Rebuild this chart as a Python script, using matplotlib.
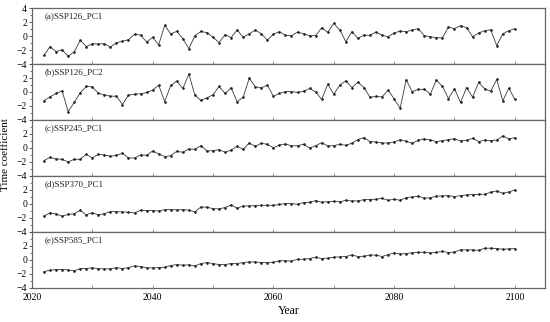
import numpy as np
import matplotlib
matplotlib.use("Agg")
import matplotlib.pyplot as plt
from matplotlib.ticker import MultipleLocator

plt.rcParams['font.family'] = ['Liberation Serif', 'DejaVu Serif']

years = list(range(2022, 2101))

ssp126_pc1 = [-2.78, -1.5, -2.22, -1.95, -2.9, -2.27, -0.61, -1.51, -1.1, -1.14,
              -1.1, -1.58, -0.95, -0.76, -0.52, 0.26, 0.14, -0.85, -0.19, -1.25,
              1.52, 0.29, 0.68, -0.38, -1.8, 0.05, 0.65, 0.48, -0.19, -0.93,
              0.2, -0.22, 0.88, -0.19, 0.33, 0.85, 0.33, -0.58, 0.26, 0.62,
              0.1, 0.05, 0.57, 0.33, 0.05, 0.05, 1.19, 0.52, 1.81, 0.86,
              -0.81, 0.62, -0.33, 0.14, 0.1, 0.57, 0.1, -0.1, 0.43, 0.71,
              0.62, 0.86, 1.05, 0.05, -0.1, -0.24, -0.24, 1.29, 1.05, 1.48,
              1.19, -0.1, 0.43, 0.76, 0.9, -1.38, 0.33, 0.76, 1.05]

ssp126_pc2 = [-1.25, -0.69, -0.21, 0.17, -2.79, -1.5, -0.12, 0.79, 0.74, -0.17,
              -0.4, -0.6, -0.6, -1.79, -0.45, -0.31, -0.26, -0.07, 0.26, 0.98,
              -1.36, 0.93, 1.55, 0.5, 2.55, -0.45, -1.21, -0.83, -0.4, 0.79,
              -0.21, 0.6, -1.4, -0.74, 1.98, 0.74, 0.6, 0.98, -0.6, -0.21,
              0.07, 0.07, -0.07, 0.12, 0.5, 0.02, -1.07, 1.12, -0.31, 0.98,
              1.6, 0.64, 1.4, 0.64, -0.74, -0.64, -0.69, 0.26, -0.98, -2.31,
              1.74, 0.05, 0.36, 0.4, -0.31, 1.74, 0.79, -0.93, 0.45, -1.5,
              0.64, -0.74, 1.36, 0.45, 0.12, 1.79, -1.26, 0.55, -1.07]

ssp245_pc1 = [-1.81, -1.33, -1.57, -1.62, -2.0, -1.62, -1.62, -0.9, -1.43, -0.9,
              -1.0, -1.19, -1.05, -0.76, -1.43, -1.43, -1.0, -1.05, -0.43, -0.86,
              -1.24, -1.1, -0.48, -0.62, -0.14, -0.19, 0.33, -0.43, -0.38, -0.24,
              -0.62, -0.29, 0.24, -0.19, 0.71, 0.24, 0.67, 0.52, 0.03, 0.43,
              0.57, 0.29, 0.33, 0.52, 0.0, 0.33, 0.76, 0.29, 0.33, 0.52,
              0.38, 0.67, 1.19, 1.48, 0.9, 0.86, 0.71, 0.71, 0.86, 1.19,
              0.95, 0.67, 1.1, 1.29, 1.14, 0.9, 1.05, 1.19, 1.33, 1.0,
              1.1, 1.38, 0.9, 1.14, 1.05, 1.14, 1.71, 1.29, 1.48]

ssp370_pc1 = [-1.71, -1.29, -1.43, -1.76, -1.48, -1.43, -0.9, -1.57, -1.24, -1.57,
              -1.38, -1.1, -1.1, -1.14, -1.19, -1.29, -0.9, -0.95, -0.95, -1.0,
              -0.81, -0.81, -0.86, -0.81, -0.9, -1.14, -0.43, -0.48, -0.67, -0.71,
              -0.52, -0.14, -0.62, -0.29, -0.29, -0.24, -0.19, -0.19, -0.21, -0.08,
              0.05, 0.05, -0.05, 0.19, 0.24, 0.48, 0.24, 0.33, 0.38, 0.29,
              0.52, 0.43, 0.43, 0.62, 0.62, 0.67, 0.81, 0.52, 0.67, 0.52,
              0.9, 1.0, 1.1, 0.81, 0.9, 1.1, 1.14, 1.19, 1.05, 1.19,
              1.29, 1.33, 1.38, 1.38, 1.67, 1.86, 1.52, 1.71, 2.0]

ssp585_pc1 = [-1.67, -1.48, -1.38, -1.38, -1.43, -1.57, -1.24, -1.24, -1.14, -1.24,
              -1.29, -1.29, -1.1, -1.24, -1.1, -0.86, -0.95, -1.14, -1.14, -1.1,
              -1.05, -0.81, -0.67, -0.76, -0.71, -0.86, -0.52, -0.38, -0.52, -0.67,
              -0.67, -0.52, -0.52, -0.38, -0.29, -0.29, -0.38, -0.38, -0.36, -0.12,
              -0.12, -0.17, 0.08, 0.1, 0.19, 0.38, 0.19, 0.26, 0.38, 0.43,
              0.48, 0.71, 0.48, 0.52, 0.69, 0.69, 0.48, 0.76, 1.0, 0.86,
              0.9, 1.02, 1.07, 1.1, 1.0, 1.07, 1.21, 1.05, 1.12, 1.45,
              1.43, 1.43, 1.36, 1.67, 1.67, 1.62, 1.52, 1.57, 1.62]

labels = ["(a)SSP126_PC1", "(b)SSP126_PC2", "(c)SSP245_PC1",
          "(d)SSP370_PC1", "(e)SSP585_PC1"]
series = [ssp126_pc1, ssp126_pc2, ssp245_pc1, ssp370_pc1, ssp585_pc1]
xticks = [2020, 2040, 2060, 2080, 2100]

fig = plt.figure(figsize=(5.5, 3.22), dpi=100)
gs = fig.add_gridspec(5, 1, left=0.058, right=0.991, top=0.975, bottom=0.106, hspace=0)
spine_c = '#666666'
for i, (lab, vals) in enumerate(zip(labels, series)):
    ax = fig.add_subplot(gs[i])
    ax.plot(years, vals, color='#3a3a3a', lw=0.6, marker='o', ms=0.9,
            markerfacecolor='#222222', markeredgecolor='#222222')
    ax.set_xlim(2020, 2105)
    ax.set_ylim(-4, 4)
    if i == 0:
        ax.set_yticks([-4, -2, 0, 2, 4])
    else:
        ax.set_yticks([-4, -2, 0, 2])
    ax.yaxis.set_minor_locator(MultipleLocator(1))
    ax.set_xticks(xticks)
    ax.xaxis.set_minor_locator(MultipleLocator(10))
    ax.tick_params(axis='y', which='major', direction='out', length=2.5, width=0.6,
                   labelsize=7, pad=1, color='#444444')
    ax.tick_params(axis='y', which='minor', direction='out', length=1.3, width=0.5,
                   color='#444444')
    ax.tick_params(axis='x', which='both', direction='in', length=2, width=0.5,
                   labelsize=7, color='#666666')
    if i < 4:
        ax.tick_params(axis='x', labelbottom=False)
    for s in ax.spines.values():
        s.set_color(spine_c)
        s.set_linewidth(0.9)
    ax.text(0.025, 0.93, lab, transform=ax.transAxes, fontsize=6.5,
            va='top', ha='left', color='#222222')
    if i == 4:
        ax.set_xlabel("Year", fontsize=8.5, labelpad=2)

fig.text(0.002, 0.52, "Time coefficient", rotation=90, fontsize=8,
         va='center', ha='left')
fig.savefig("out.png", dpi=100)
